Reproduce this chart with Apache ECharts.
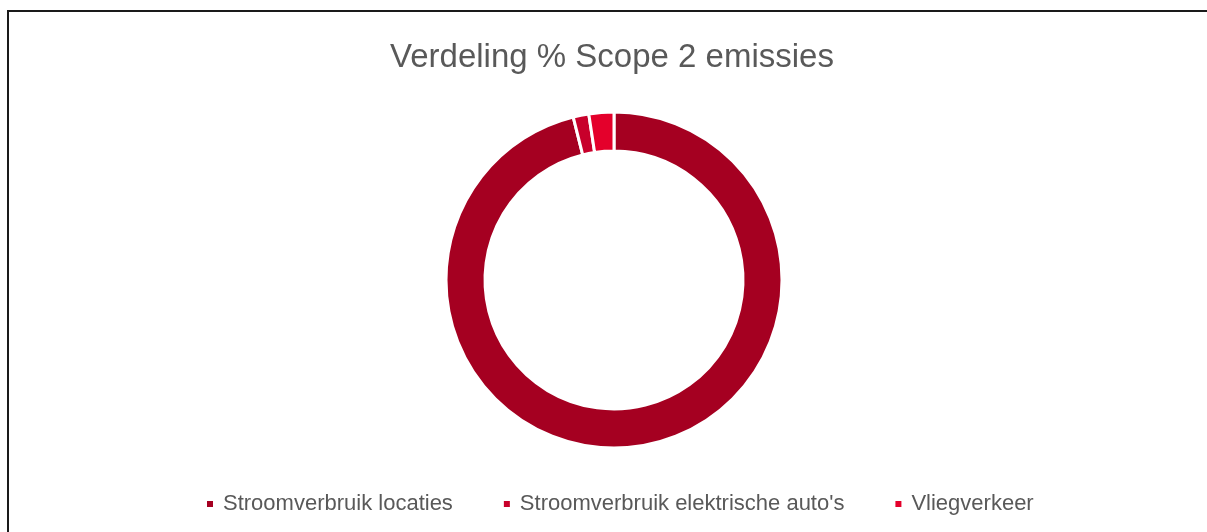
<!DOCTYPE html>
<html>
<head>
<meta charset="utf-8">
<script src="https://cdn.jsdelivr.net/npm/echarts@6/dist/echarts.min.js"></script>
<style>
  html, body { margin: 0; padding: 0; background: #fff; }
  #main { width: 1207px; height: 532px; }
</style>
</head>
<body>
<div id="main"></div>
<script>
// data (percentages)
var categories = ['Stroomverbruik locaties', "Stroomverbruik elektrische auto's", 'Vliegverkeer']
var values = [96.1, 1.5, 2.4]
var colors = ['#A50021', '#C8002B', '#E4002B']

var chart = echarts.init(document.getElementById('main'))

var data = []
categories.map(function (name, i) {
  data.push({ name: name, value: values[i] })
})

var option = {
  backgroundColor: '#ffffff',
  color: colors,
  animation: false,
  title: {
    text: 'Verdeling % Scope 2 emissies',
    left: 390,
    top: 41,
    padding: 0,
    textStyle: {
      color: '#595959',
      fontSize: 33,
      fontWeight: 'normal',
      fontFamily: 'Liberation Sans'
    }
  },
  legend: {
    top: 493,
    left: 205,
    padding: 0,
    icon: 'rect',
    itemWidth: 8,
    itemHeight: 8,
    itemGap: 49,
    textStyle: {
      color: '#595959',
      fontSize: 22,
      fontFamily: 'Liberation Sans',
      padding: [0, 0, 0, 4]
    },
    data: categories
  },
  series: [{
    type: 'pie',
    center: [614, 280],
    radius: [129, 168],
    startAngle: 90,
    clockwise: true,
    label: { show: false },
    labelLine: { show: false },
    itemStyle: {
      borderColor: '#ffffff',
      borderWidth: 3
    },
    data: data
  }],
  graphic: [{
    type: 'rect',
    shape: { x: 8, y: 11, width: 1220, height: 540 },
    style: { fill: null, stroke: '#1a1a1a', lineWidth: 2 },
    silent: true
  }]
}
chart.setOption(option)
</script>
</body>
</html>
